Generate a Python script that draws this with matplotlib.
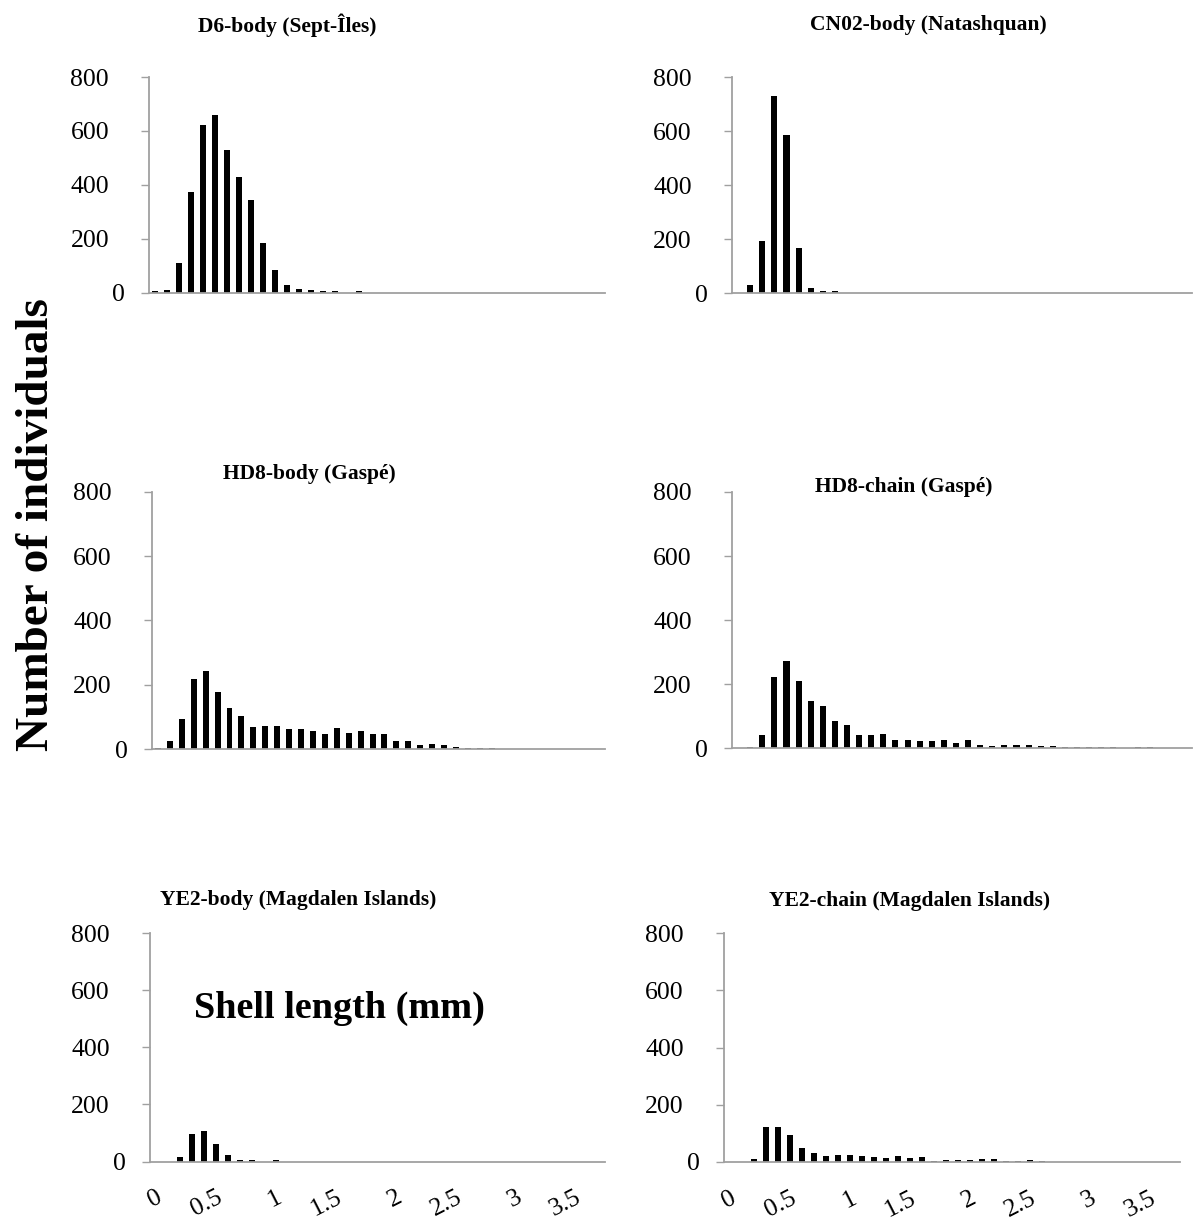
import numpy as np
import matplotlib
matplotlib.use("Agg")
import matplotlib.pyplot as plt
from matplotlib.transforms import ScaledTranslation

plt.rcParams['font.family'] = ['Liberation Serif', 'DejaVu Serif']

# ---- data (counts per 0.1 mm size class, starting at 0 mm) ----
bin_width = 0.1
n_bins = 38
d6_body = [5, 9, 111, 373, 623, 658, 530, 428, 344, 183, 85, 26, 14, 9, 6, 5, 0, 5]
cn02_body = [0, 31, 191, 731, 586, 167, 17, 6, 6]
hd8_body = [4, 27, 94, 217, 243, 179, 129, 104, 69, 72, 72, 62, 62, 58, 48, 65, 52, 58,
            48, 48, 27, 27, 12, 16, 12, 8, 4, 4, 4]
hd8_chain = [0, 5, 40, 222, 271, 211, 147, 133, 84, 72, 40, 40, 44, 26, 26, 23, 23, 26, 16,
             26, 11, 7, 11, 11, 11, 8, 7, 4, 4, 4, 4, 4, 0, 4, 4]
ye2_body = [0, 0, 15, 95, 107, 63, 23, 7, 4, 0, 4]
ye2_chain = [0, 0, 9, 121, 121, 93, 49, 30, 22, 26, 26, 22, 17, 14, 22, 14, 17, 3, 6, 6, 6,
             9, 9, 3, 3, 6, 3]

titles = ["D6-body (Sept-Îles)", "CN02-body (Natashquan)",
          "HD8-body (Gaspé)", "HD8-chain (Gaspé)",
          "YE2-body (Magdalen Islands)", "YE2-chain (Magdalen Islands)"]
series = [d6_body, cn02_body, hd8_body, hd8_chain, ye2_body, ye2_chain]
x_tick_labels = ["0", "0.5", "1", "1.5", "2", "2.5", "3", "3.5"]
y_ticks = [0, 200, 400, 600, 800]

# ---- layout (pixel boxes: left, right, top, bottom) ----
W, H = 1198, 1226
boxes = [(149, 605, 77, 292.5), (732, 1192, 77, 293),
         (152, 605, 491.6, 749.3), (732, 1192, 492, 748.3),
         (150, 605, 933, 1161.5), (724, 1180, 933, 1162)]
title_pos = [(287, 25), (928, 25), (309, 474), (904, 487), (298, 900), (910, 901)]

fig = plt.figure(figsize=(W / 100, H / 100), dpi=100)
fig.patch.set_facecolor('white')
grey = '#a0a0a0'

for k, (vals, box) in enumerate(zip(series, boxes)):
    l, r, t, b = box
    ax = fig.add_axes([l / W, 1 - b / H, (r - l) / W, (b - t) / H])
    centers = (np.arange(len(vals)) + 0.5) * bin_width
    ax.bar(centers, vals, width=bin_width * 0.5, color='black', linewidth=0)
    ax.set_xlim(0, n_bins * bin_width)
    ax.set_ylim(0, 800)
    for s in ['top', 'right']:
        ax.spines[s].set_visible(False)
    for s in ['left', 'bottom']:
        ax.spines[s].set_color(grey)
        ax.spines[s].set_linewidth(1.3)
    ax.set_yticks(y_ticks)
    ax.set_yticklabels([str(v) for v in y_ticks])
    ax.tick_params(axis='y', direction='out', length=5.8, width=1.0, color=grey,
                   labelsize=18.5, pad=23)
    # shift the "0" label to the right like the original
    for lab in ax.get_yticklabels():
        if lab.get_text() == "0":
            lab.set_transform(lab.get_transform() + ScaledTranslation(16 / 100, 0, fig.dpi_scale_trans))
    if k >= 4:
        ticks = (np.arange(len(x_tick_labels)) * 5 + 0.5) * bin_width
        ax.set_xticks(ticks)
        ax.set_xticklabels(x_tick_labels)
        ax.tick_params(axis='x', length=0, labelsize=18.5, pad=18)
        for lab in ax.get_xticklabels():
            lab.set_rotation(27)
            lab.set_rotation_mode('anchor')
            lab.set_ha('right')
            lab.set_va('top')
    else:
        ax.set_xticks([])
    tx, ty = title_pos[k]
    fig.text(tx / W, 1 - ty / H, titles[k], ha='center', va='center',
             fontsize=15.5, fontweight='bold')

fig.text(339 / W, 1 - 1008 / H, "Shell length (mm)", ha='center', va='center',
         fontsize=27.5, fontweight='bold')
fig.text(37 / W, 1 - 525 / H, "Number of individuals", ha='center', va='center',
         fontsize=34, fontweight='bold', rotation=90)

fig.savefig("out.png", dpi=100, facecolor='white')
